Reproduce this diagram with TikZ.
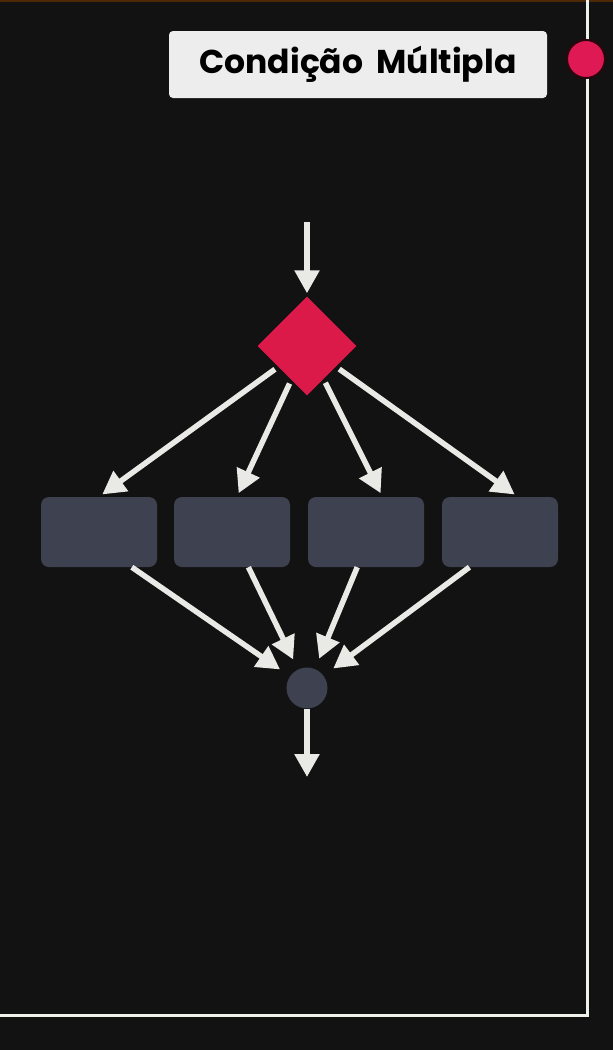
\documentclass[tikz,border=0pt]{standalone}
\usepackage{fontspec}
\setmainfont{Poppins}
\usetikzlibrary{shapes.geometric,arrows.meta}
\definecolor{bgc}{HTML}{121212}
\definecolor{arw}{HTML}{E9E9E6}
\definecolor{blk}{HTML}{3E4150}
\definecolor{dec}{HTML}{DC1A4A}
\definecolor{frm}{HTML}{EEF2EA}
\begin{document}
\begin{tikzpicture}[x=1pt,y=-1pt,
  flow/.style={draw=arw,line width=5.5pt,-{Triangle[length=23pt,width=24pt]}},
  blok/.style={rectangle,rounded corners=8pt,fill=blk,minimum width=116pt,minimum height=70pt,inner sep=0pt}]
\useasboundingbox[fill=bgc] (0,0) rectangle (613,1050);
\fill[black!60!orange!70!bgc] (0,0) rectangle (613,2);
% frame and title
\draw[frm,line width=3pt] (0,1015) -- (587,1015) -- (587,0);
\node[draw=black!80!dec,line width=2pt,circle,fill=dec!95!magenta,minimum size=38pt,inner sep=0pt] (DOT) at (586,59) {};
\node[rectangle,rounded corners=4pt,fill=black!7,minimum width=378pt,minimum height=67pt,inner sep=0pt] (TTL) at (358,64.5) {\fontsize{33}{33}\selectfont\bfseries\spaceskip=0.4em Condição Múltipla};
% decision
\coordinate (IN) at (307,222);
\node[diamond,fill=dec,minimum size=99pt,inner sep=0pt] (DEC) at (307,346) {};
\draw[flow,shorten >=3pt] (IN) -- (DEC);
\node[blok] (CA) at (99,532) {};
\node[blok] (CB) at (232,532) {};
\node[blok] (CC) at (366,532) {};
\node[blok] (CD) at (500,532) {};
\draw[flow,shorten <=4pt,shorten >=4pt] (DEC) -- (CA.north);
\draw[flow,shorten <=4pt,shorten >=4pt] (DEC) -- (CB.82);
\draw[flow,shorten <=4pt,shorten >=4pt] (DEC) -- (CC.65);
\draw[flow,shorten <=4pt,shorten >=4pt] (DEC) -- (CD.63);
% merge
\node[circle,fill=blk,minimum size=41pt,inner sep=0pt] (MRG) at (307,688) {};
\draw[flow,shorten >=12pt] (CA.-47) -- (MRG);
\draw[flow,shorten >=11pt] (CB.-65) -- (MRG);
\draw[flow,shorten >=11pt] (CC.-104) -- (MRG);
\draw[flow,shorten >=12pt] (CD.-131) -- (MRG);
\coordinate (OUT) at (307,777);
\draw[flow] (MRG) -- (OUT);
\end{tikzpicture}
\end{document}
